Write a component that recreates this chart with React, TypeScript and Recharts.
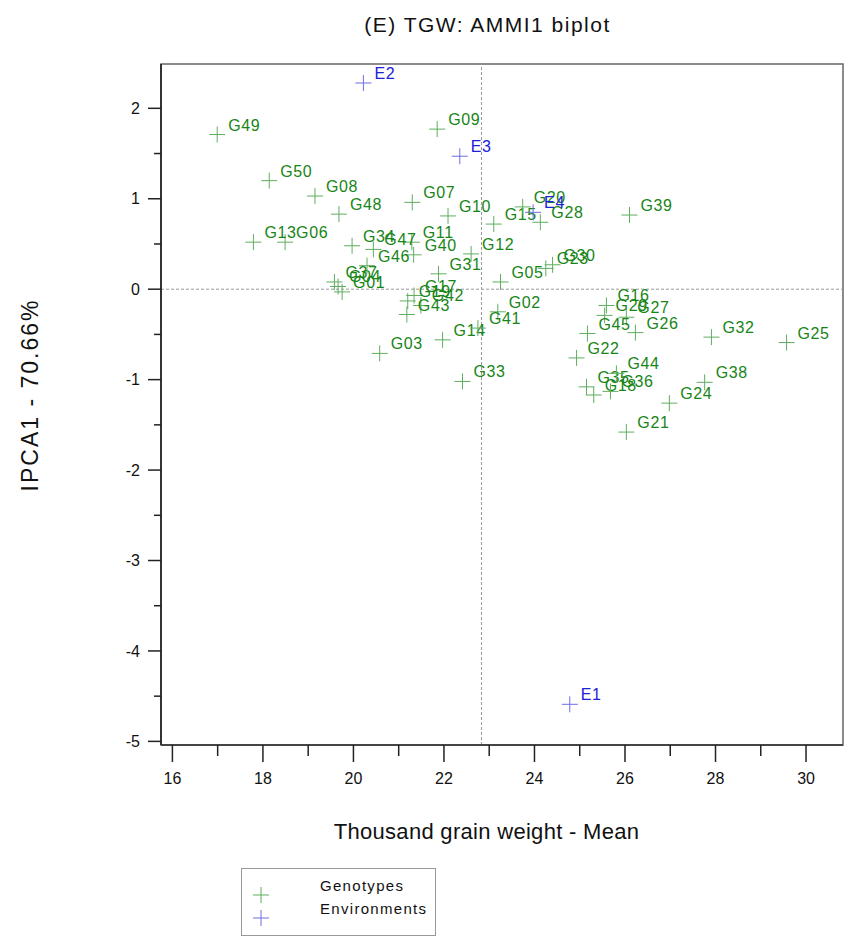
import { ReferenceArea, ReferenceLine, Scatter, ScatterChart, XAxis, YAxis } from "recharts";

const genotypes = [
  "G01", "G02", "G03", "G04", "G05", "G06", "G07", "G08", "G09", "G10",
  "G11", "G12", "G13", "G14", "G15", "G16", "G17", "G18", "G19", "G20",
  "G21", "G22", "G23", "G24", "G25", "G26", "G27", "G28", "G29", "G30",
  "G31", "G32", "G33", "G34", "G35", "G36", "G37", "G38", "G39", "G40",
  "G41", "G42", "G43", "G44", "G45", "G46", "G47", "G48", "G49", "G50",
];
const genotypeMean = [
  19.75, 23.19, 20.58, 19.66, 23.25, 18.49, 21.3, 19.15, 21.85, 22.09,
  21.29, 22.6, 17.79, 21.97, 23.1, 25.59, 21.34, 25.31, 21.2, 23.74,
  26.03, 24.93, 24.25, 26.98, 29.57, 26.23, 26.03, 24.13, 25.55, 24.4,
  21.88, 27.91, 22.41, 19.97, 25.15, 25.68, 19.58, 27.76, 26.1, 21.33,
  22.75, 21.49, 21.18, 25.81, 25.17, 20.3, 20.44, 19.68, 16.99, 18.14,
];
const genotypeIpca1 = [
  -0.03, -0.25, -0.71, 0.03, 0.08, 0.52, 0.96, 1.03, 1.77, 0.81,
  0.52, 0.39, 0.52, -0.56, 0.72, -0.18, -0.07, -1.17, -0.13, 0.91,
  -1.58, -0.76, 0.23, -1.26, -0.59, -0.48, -0.31, 0.74, -0.29, 0.27,
  0.17, -0.53, -1.02, 0.48, -1.08, -1.13, 0.08, -1.03, 0.82, 0.38,
  -0.43, -0.18, -0.28, -0.93, -0.49, 0.26, 0.44, 0.83, 1.71, 1.2,
];

const environments = ["E1", "E2", "E3", "E4"];
const environmentMean = [24.78, 20.22, 22.35, 23.97];
const environmentIpca1 = [-4.59, 2.28, 1.47, 0.85];

const grandMean = 22.83;

const xTicks = [16, 17, 18, 19, 20, 21, 22, 23, 24, 25, 26, 27, 28, 29, 30];
const yTicks = [-5, -4.5, -4, -3.5, -3, -2.5, -2, -1.5, -1, -0.5, 0, 0.5, 1, 1.5, 2];

const X_DOMAIN: [number, number] = [15.748, 30.817];
const Y_DOMAIN: [number, number] = [-5.04, 2.49];

const genotypeData = genotypes.map((name, i) => ({
  name,
  x: genotypeMean[i],
  y: genotypeIpca1[i],
}));
const environmentData = environments.map((name, i) => ({
  name,
  x: environmentMean[i],
  y: environmentIpca1[i],
}));

const FONT = '"Liberation Sans", Arial, sans-serif';

// "+" marker with its name written up and to the right
function plusShape(markColor: string, textColor: string) {
  return (props: any) => {
    const { cx, cy, payload } = props;
    return (
      <g>
        <line x1={cx - 8} x2={cx + 8} y1={cy} y2={cy} stroke={markColor} strokeWidth={1} />
        <line x1={cx} x2={cx} y1={cy - 8} y2={cy + 8} stroke={markColor} strokeWidth={1} />
        <text
          x={cx + 11}
          y={cy - 4}
          fill={textColor}
          fontSize={16}
          letterSpacing={0.6}
          fontFamily={FONT}
        >
          {payload.name}
        </text>
      </g>
    );
  };
}

function XTick(props: any) {
  const { x, y, payload } = props;
  const major = payload.value % 2 === 0;
  return (
    <g>
      <line x1={x} x2={x} y1={y} y2={y + (major ? 17 : 11)} stroke="#222" strokeWidth={1.5} />
      {major && (
        <text x={x} y={y + 39} textAnchor="middle" fontSize={16} fill="#111" fontFamily={FONT}>
          {payload.value}
        </text>
      )}
    </g>
  );
}

function YTick(props: any) {
  const { x, y, payload } = props;
  const major = Number.isInteger(payload.value);
  return (
    <g>
      <line x1={x - (major ? 13 : 7)} x2={x} y1={y} y2={y} stroke="#222" strokeWidth={1.5} />
      {major && (
        <text x={x - 21} y={y} dy="0.35em" textAnchor="end" fontSize={16} fill="#111" fontFamily={FONT}>
          {payload.value}
        </text>
      )}
    </g>
  );
}

export default function App() {
  return (
    <div
      style={{
        position: "absolute",
        left: 0,
        top: 0,
        width: 845,
        height: 939,
        background: "#fff",
        fontFamily: FONT,
        color: "#111",
      }}
    >
      <div
        style={{
          position: "absolute",
          left: 0,
          width: 975,
          top: 13,
          textAlign: "center",
          fontSize: 21,
          letterSpacing: 1.5,
          whiteSpace: "nowrap",
        }}
      >
        (E) TGW: AMMI1 biplot
      </div>

      <ScatterChart width={845} height={939} margin={{ top: 64, right: 2, bottom: 0, left: 0 }}>
        <XAxis
          type="number"
          dataKey="x"
          domain={X_DOMAIN}
          ticks={xTicks}
          interval={0}
          allowDataOverflow
          height={194}
          tickSize={0}
          tickMargin={0}
          tick={<XTick />}
          axisLine={{ stroke: "#444", strokeWidth: 2 }}
        />
        <YAxis
          type="number"
          dataKey="y"
          domain={Y_DOMAIN}
          ticks={yTicks}
          interval={0}
          allowDataOverflow
          width={161}
          tickSize={0}
          tickMargin={0}
          tick={<YTick />}
          axisLine={{ stroke: "#333", strokeWidth: 2 }}
        />
        <ReferenceArea
          x1={X_DOMAIN[0]}
          x2={X_DOMAIN[1]}
          y1={Y_DOMAIN[0]}
          y2={Y_DOMAIN[1]}
          fill="none"
          stroke="#666"
          strokeWidth={1.5}
        />
        <ReferenceLine x={grandMean} stroke="#999" strokeDasharray="3 2" strokeWidth={1} />
        <ReferenceLine y={0} stroke="#999" strokeDasharray="3 2" strokeWidth={1} />
        <Scatter
          name="Genotypes"
          data={genotypeData}
          shape={plusShape("#5fae5f", "#178517")}
          isAnimationActive={false}
        />
        <Scatter
          name="Environments"
          data={environmentData}
          shape={plusShape("#6e6ee0", "#2020d8")}
          isAnimationActive={false}
        />
      </ScatterChart>

      <div
        style={{
          position: "absolute",
          left: 30,
          top: 395,
          transform: "translate(-50%, -50%) rotate(-90deg)",
          fontSize: 23,
          letterSpacing: 2,
          whiteSpace: "nowrap",
        }}
      >
        IPCA1 - 70.66%
      </div>

      <div
        style={{
          position: "absolute",
          left: 0,
          width: 973,
          top: 819,
          textAlign: "center",
          fontSize: 22,
          letterSpacing: 0.3,
          whiteSpace: "nowrap",
        }}
      >
        Thousand grain weight - Mean
      </div>

      <div
        style={{
          position: "absolute",
          left: 241,
          top: 868,
          width: 195,
          height: 68,
          border: "1.5px solid #999",
          boxSizing: "border-box",
        }}
      >
        {[
          { label: "Genotypes", color: "#5fae5f", top: 18 },
          { label: "Environments", color: "#6e6ee0", top: 41 },
        ].map((item) => (
          <div key={item.label}>
            <svg
              width={18}
              height={18}
              style={{ position: "absolute", left: 10, top: item.top - 1 }}
            >
              <line x1={1} x2={17} y1={9} y2={9} stroke={item.color} strokeWidth={1} />
              <line x1={9} x2={9} y1={1} y2={17} stroke={item.color} strokeWidth={1} />
            </svg>
            <span
              style={{
                position: "absolute",
                left: 78,
                top: item.top - 10,
                fontSize: 15,
                letterSpacing: 1.3,
                whiteSpace: "nowrap",
              }}
            >
              {item.label}
            </span>
          </div>
        ))}
      </div>
    </div>
  );
}
